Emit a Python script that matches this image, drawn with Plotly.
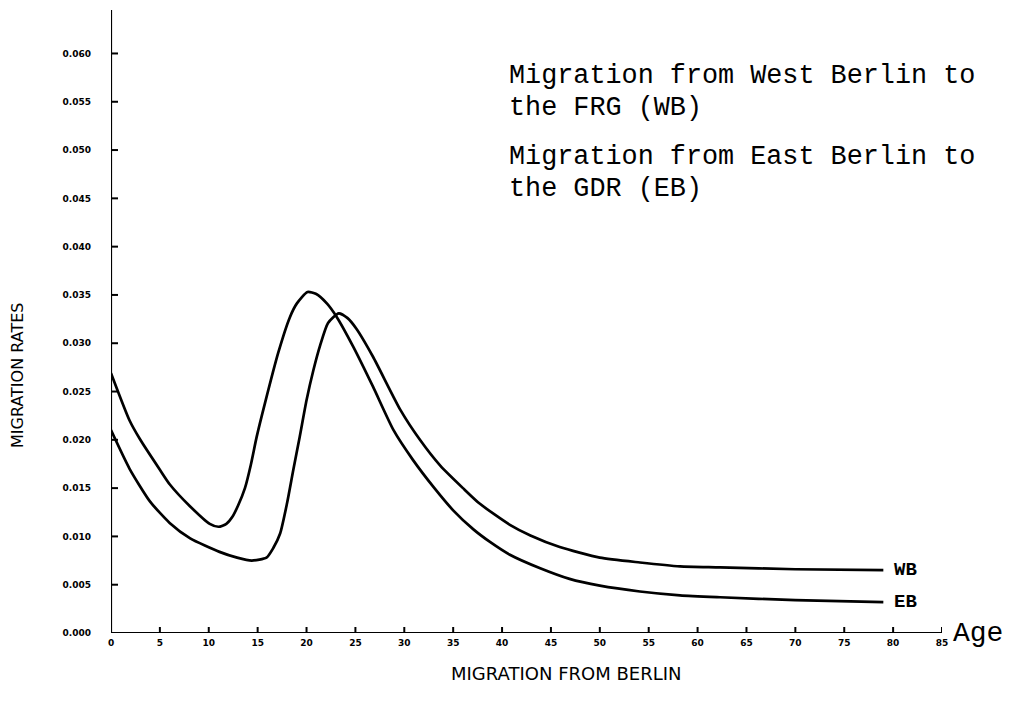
import plotly.graph_objects as go

# --- data ---
wb_age = [0, 1.9, 4.0, 6.0, 8.1, 11.1, 12.9, 14.4, 15.9, 16.6, 17.3, 18.0, 18.65, 19.3, 20.0,
          20.7, 21.4, 22.2, 23.3, 24.2, 25.1, 26.8, 29.6, 31.6, 33.7, 36.0, 37.7, 40.8, 42.9,
          45.9, 50.0, 54.1, 58.2, 62.3, 70.0, 79.0]
wb_rate = [0.0210, 0.0170, 0.0136, 0.0114, 0.0098, 0.0084, 0.0078, 0.0075, 0.0078, 0.0088,
           0.0103, 0.0134, 0.0169, 0.0203, 0.0241, 0.0272, 0.0298, 0.0321, 0.0331, 0.0326,
           0.0315, 0.0286, 0.0231, 0.0200, 0.0173, 0.0150, 0.0134, 0.0112, 0.0101, 0.0089,
           0.0078, 0.0073, 0.0069, 0.0068, 0.0066, 0.0065]

eb_age = [0, 1.9, 3.0, 5.0, 6.0, 8.1, 10.1, 11.0, 11.8, 12.4, 13.0, 13.7, 14.3, 14.9, 15.75,
          17.1, 18.3, 19.0, 20.1, 21.0, 22.1, 23.1, 24.8, 26.8, 28.9, 30.9, 33.0, 35.0, 37.1,
          38.8, 40.8, 43.9, 46.9, 50.0, 54.1, 58.2, 62.3, 70.0, 79.0]
eb_rate = [0.0269, 0.0220, 0.0200, 0.0169, 0.0154, 0.0131, 0.0113, 0.0110, 0.0113, 0.0120,
           0.0132, 0.0150, 0.0174, 0.0203, 0.0238, 0.0290, 0.0327, 0.0341, 0.0353, 0.0351,
           0.0341, 0.0327, 0.0296, 0.0255, 0.0210, 0.0179, 0.0151, 0.0127, 0.0107, 0.0094,
           0.0081, 0.0067, 0.0056, 0.0049, 0.0043, 0.0039, 0.0037, 0.0034, 0.0032]

x_ticks = list(range(0, 90, 5))
x_ticktext = [str(v) for v in x_ticks]
y_ticks = [i * 0.005 for i in range(13)]
y_ticktext = ["%.3f" % v for v in y_ticks]

note_lines = ["Migration from West Berlin to", "the FRG (WB)",
              "Migration from East Berlin to", "the GDR (EB)"]
note_py = [76, 108, 157, 189]  # pixel rows of the note lines

X_MAX = 85
Y_MAX = 0.0645
PLOT_TOP, PLOT_BOTTOM = 10, 633

fig = go.Figure()
for name, xs, ys in [("WB", wb_age, wb_rate), ("EB", eb_age, eb_rate)]:
    fig.add_trace(go.Scatter(x=xs, y=ys, mode="lines", name=name,
                             line=dict(color="black", width=2.7, shape="spline", smoothing=0.6),
                             showlegend=False, hoverinfo="skip"))

shapes = []
shapes.append(dict(type="line", xref="x", yref="y", x0=0, x1=X_MAX, y0=0, y1=0,
                   line=dict(color="black", width=2.2)))
shapes.append(dict(type="line", xref="x", yref="y", x0=0, x1=0, y0=0, y1=Y_MAX,
                   line=dict(color="black", width=2.2)))
for t in x_ticks[1:]:
    shapes.append(dict(type="line", xref="x", yref="y", x0=t, x1=t,
                       ysizemode="pixel", yanchor=0, y0=-6, y1=6,
                       line=dict(color="black", width=2)))
for t in y_ticks[1:]:
    shapes.append(dict(type="line", yref="y", xref="x", y0=t, y1=t,
                       xsizemode="pixel", xanchor=0, x0=-7, x1=7,
                       line=dict(color="black", width=2)))

annotations = []
mono = "Courier New, Liberation Mono, monospace"
for txt, py in zip(note_lines, note_py):
    annotations.append(dict(text=txt, xref="paper", yref="paper", x=(507 - 111) / 831,
                            y=(PLOT_BOTTOM - py) / (PLOT_BOTTOM - PLOT_TOP),
                            xanchor="left", yanchor="middle", align="left", showarrow=False,
                            font=dict(family=mono, size=26.8, color="black")))
for name, xs, ys in [("WB", wb_age, wb_rate), ("EB", eb_age, eb_rate)]:
    annotations.append(dict(text=name, x=xs[-1], y=ys[-1], xref="x", yref="y",
                            xanchor="left", yanchor="middle", xshift=9, showarrow=False,
                            font=dict(family=mono, size=19, color="black", weight="bold")))
annotations.append(dict(text="Age", x=X_MAX, y=0, xref="x", yref="y", xanchor="left",
                        yanchor="middle", xshift=9, showarrow=False,
                        font=dict(family=mono, size=28, color="black")))
annotations.append(dict(text="MIGRATION FROM BERLIN", xref="paper", yref="paper",
                        x=(566 - 111) / 831, y=(633 - 673) / 623, xanchor="center",
                        yanchor="middle", showarrow=False,
                        font=dict(family="DejaVu Sans", size=18, color="black")))
annotations.append(dict(text="MIGRATION RATES", xref="paper", yref="paper",
                        x=(17 - 111) / 831, y=(633 - 376) / 623, xanchor="center",
                        yanchor="middle", textangle=-90, showarrow=False,
                        font=dict(family="DejaVu Sans", size=16, color="black")))

fig.update_layout(
    width=1015, height=712,
    margin=dict(l=111, r=73, t=PLOT_TOP, b=712 - PLOT_BOTTOM, pad=0),
    paper_bgcolor="white", plot_bgcolor="white",
    xaxis=dict(range=[0, X_MAX], tickvals=x_ticks, ticktext=x_ticktext, ticks="",
               showgrid=False, zeroline=False, showline=False, ticklabelstandoff=3,
               tickfont=dict(family="DejaVu Sans", size=9, color="black", weight="bold")),
    yaxis=dict(range=[0, Y_MAX], tickvals=y_ticks, ticktext=y_ticktext, ticks="",
               showgrid=False, zeroline=False, showline=False, ticklabelstandoff=19,
               tickfont=dict(family="DejaVu Sans", size=9, color="black", weight="bold")),
    shapes=shapes, annotations=annotations,
)

fig.write_html("out.html")
